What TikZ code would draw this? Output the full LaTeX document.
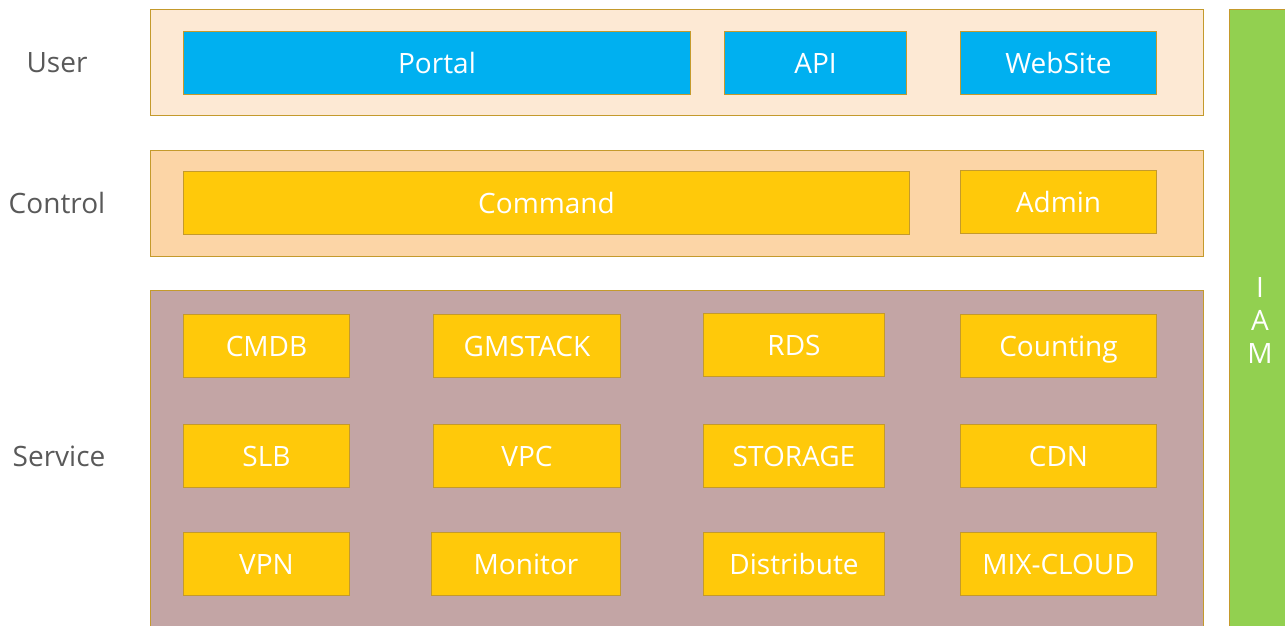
\documentclass[tikz,border=0pt]{standalone}
\usepackage{fontspec}
\setmainfont{Open Sans}
\definecolor{edge}{HTML}{C49A2C}
\definecolor{userbg}{HTML}{FDE9D4}
\definecolor{ctrlbg}{HTML}{FCD5A6}
\definecolor{servbg}{HTML}{C3A5A5}
\definecolor{bluebox}{HTML}{00B0F0}
\definecolor{goldbox}{HTML}{FFC90A}
\definecolor{iamgreen}{HTML}{92D050}
\definecolor{lblgray}{HTML}{595959}
\tikzset{
	layer/.style 2 args={draw=edge,line width=1pt,fill=#1,minimum width=1053pt,minimum height=#2,inner sep=0pt,anchor=north west},
	blk/.style 2 args={draw=edge,line width=1pt,fill=#1,minimum width=#2,minimum height=63pt,inner sep=0pt,text height=23pt,text depth=3pt,text=white,anchor=north west},
	lbl/.style={text=lblgray}
}

\begin{document}
\begin{tikzpicture}[x=1pt,y=-1pt,font=\fontsize{28}{33}\selectfont]
					\clip (0,0) rectangle (1285,625);

					% layers
					\node [layer={userbg}{106pt}] (user) at (150,9) {};
					\node [layer={ctrlbg}{106pt}] (control) at (150,150) {};
					\node [layer={servbg}{360pt}] (service) at (150,290) {};
					\node [draw=edge,line width=1pt,fill=iamgreen,minimum width=70pt,minimum height=640pt,anchor=north west,inner sep=0pt] (iam) at (1229,9) {};
					\node [text=white,align=center,inner sep=0pt] (iamtext) at (1260,320) {I\\A\\M};

					% labels
					\node [lbl] (userlbl) at (57,63) {User};
					\node [lbl] (ctrllbl) at (57,203) {Control};
					\node [lbl] (servlbl) at (59,456) {Service};

					% user
					\node [blk={bluebox}{507pt}] (portal) at (183,31) {Portal};
					\node [blk={bluebox}{182pt}] (api) at (724,31) {API};
					\node [blk={bluebox}{196pt}] (website) at (960,31) {WebSite};

					% control
					\node [blk={goldbox}{726pt}] (command) at (183,171) {Command};
					\node [blk={goldbox}{196pt}] (admin) at (960,170) {Admin};

					% service
					\node [blk={goldbox}{166pt}] (cmdb) at (183,314) {CMDB};
					\node [blk={goldbox}{187pt}] (gmstack) at (433,314) {GMSTACK};
					\node [blk={goldbox}{181pt}] (rds) at (703,313) {RDS};
					\node [blk={goldbox}{196pt}] (counting) at (960,314) {Counting};

					\node [blk={goldbox}{166pt}] (slb) at (183,424) {SLB};
					\node [blk={goldbox}{187pt}] (vpc) at (433,424) {VPC};
					\node [blk={goldbox}{181pt}] (storage) at (703,424) {STORAGE};
					\node [blk={goldbox}{196pt}] (cdn) at (960,424) {CDN};

					\node [blk={goldbox}{166pt}] (vpn) at (183,532) {VPN};
					\node [blk={goldbox}{189pt}] (monitor) at (431,532) {Monitor};
					\node [blk={goldbox}{181pt}] (distribute) at (703,532) {Distribute};
					\node [blk={goldbox}{196pt}] (mixcloud) at (960,532) {MIX-CLOUD};
				\end{tikzpicture}
\end{document}
